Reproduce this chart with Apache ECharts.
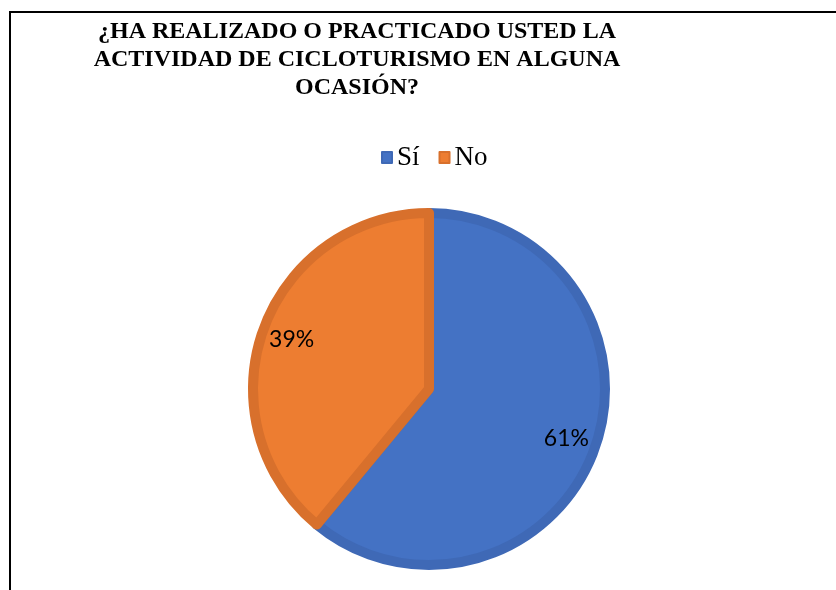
<!DOCTYPE html>
<html>
<head>
<meta charset="utf-8">
<script src="https://cdn.jsdelivr.net/npm/echarts@6/dist/echarts.min.js"></script>
<style>
html,body{margin:0;padding:0;background:#fff;}
#frame{position:absolute;left:9px;top:11px;width:900px;height:700px;border-left:2px solid #000;border-top:2px solid #000;}
#chart{position:absolute;left:0;top:0;width:836px;height:590px;}
</style>
</head>
<body>
<div id="frame"></div>
<div id="chart"></div>
<script>
const titleLines = ['¿HA REALIZADO O PRACTICADO USTED LA', 'ACTIVIDAD DE CICLOTURISMO EN ALGUNA', 'OCASIÓN?'];
const categories = ['Sí', 'No'];
const values = [61, 39];
const fillColors = ['#4472C4', '#ED7D31'];
const borderColors = ['#3F69B6', '#D8702C'];

const serif = '"Liberation Serif", "Times New Roman", serif';
const pieData = categories.map((c, i) => ({
  name: c, value: values[i],
  itemStyle: { color: fillColors[i], borderColor: borderColors[i] }
}));
const labelData = categories.map((c, i) => ({ name: c, value: values[i] }));

const chart = echarts.init(document.getElementById('chart'));
chart.setOption({
  animation: false,
  backgroundColor: 'transparent',
  title: {
    text: titleLines.join('\n'),
    left: 357, top: 18, textAlign: 'center', padding: 0,
    textStyle: { fontFamily: serif, fontWeight: 'bold', fontSize: 24, lineHeight: 28, color: '#000' }
  },
  legend: {
    data: categories,
    left: 381, top: 144, padding: 0,
    icon: 'rect', itemWidth: 10, itemHeight: 11, itemGap: 19,
    textStyle: { fontFamily: serif, fontSize: 27, color: '#000' }
  },
  series: [
    {
      type: 'pie', center: [429, 389], radius: [0, 176],
      startAngle: 90, clockwise: true, silent: true,
      label: { show: false }, labelLine: { show: false },
      itemStyle: { borderWidth: 10 },
      data: pieData
    },
    {
      type: 'pie', center: [429, 389], radius: [106, 180],
      startAngle: 90, clockwise: true, silent: true,
      legendHoverLink: false,
      itemStyle: { color: 'rgba(0,0,0,0)' },
      label: { show: true, position: 'inside', formatter: '{d}%', fontFamily: 'Lato', fontSize: 23, color: '#000' },
      labelLine: { show: false },
      data: labelData
    }
  ]
});
</script>
</body>
</html>
